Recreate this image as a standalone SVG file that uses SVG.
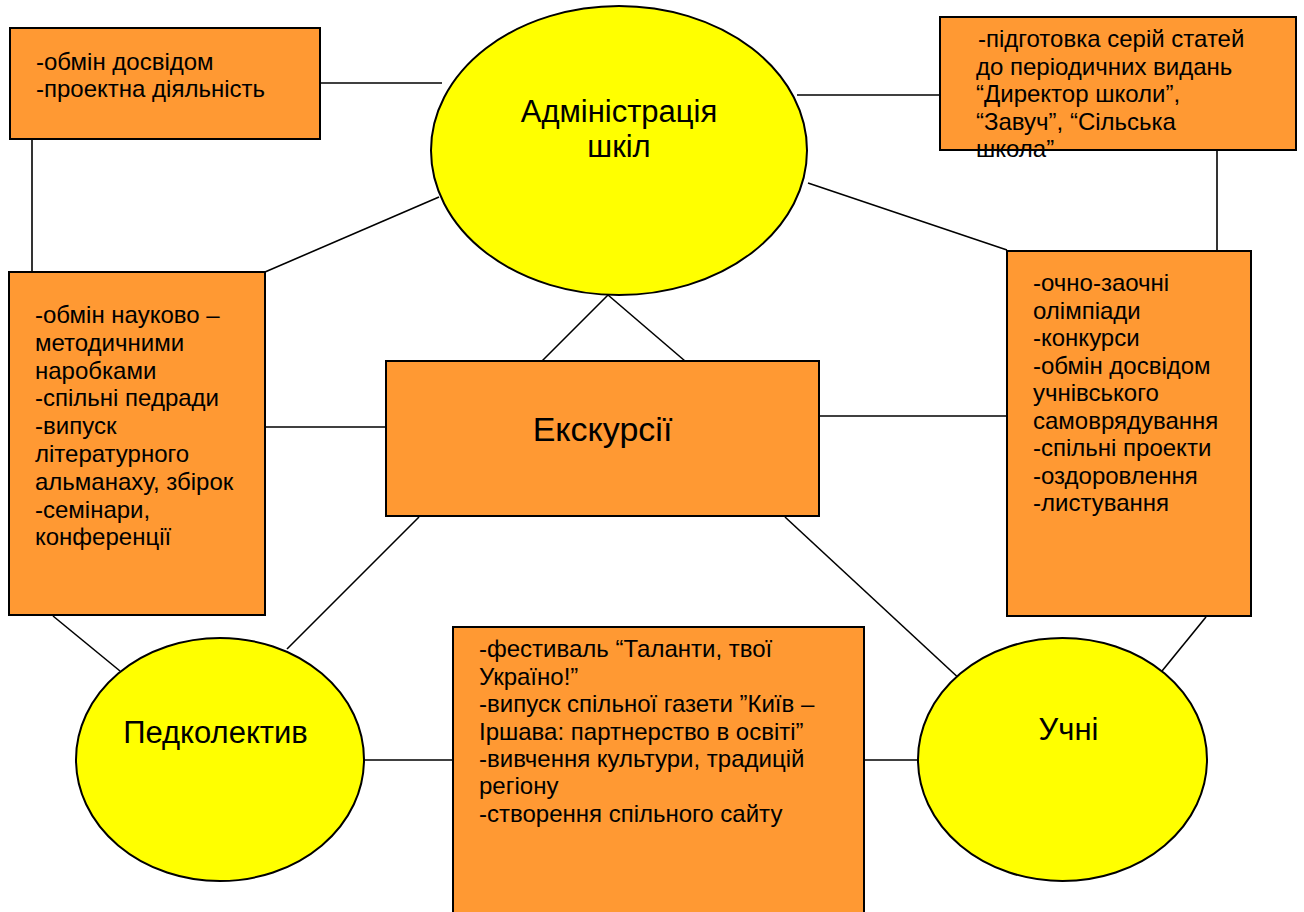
<svg xmlns="http://www.w3.org/2000/svg" width="1304" height="912" viewBox="0 0 1304 912">
<style>
.box{fill:#FF9933;stroke:#000;stroke-width:2}
.ell{fill:#FFFF00;stroke:#000;stroke-width:2}
.ln{stroke:#000;stroke-width:1.6;fill:none}
.t{font-family:"Liberation Sans",Arial,sans-serif;font-size:24px;fill:#000}
.big{font-family:"Liberation Sans",Arial,sans-serif;font-size:31px;fill:#000;text-anchor:middle}
</style>
<rect width="1304" height="912" fill="#fff"/>
<g id="connectors">
<line class="ln" x1="320" y1="83" x2="442" y2="83"/>
<line class="ln" x1="797" y1="95" x2="940" y2="95"/>
<line class="ln" x1="32" y1="139" x2="32" y2="272"/>
<line class="ln" x1="1217" y1="150" x2="1217" y2="251"/>
<line class="ln" x1="265" y1="272" x2="439" y2="197"/>
<line class="ln" x1="808" y1="183" x2="1007" y2="250"/>
<line class="ln" x1="608" y1="295" x2="542" y2="361"/>
<line class="ln" x1="608" y1="295" x2="685" y2="361"/>
<line class="ln" x1="265" y1="427" x2="386" y2="427"/>
<line class="ln" x1="819" y1="416" x2="1007" y2="416"/>
<line class="ln" x1="419" y1="517" x2="287" y2="649"/>
<line class="ln" x1="785" y1="517" x2="963" y2="682"/>
<line class="ln" x1="53" y1="616" x2="120" y2="671"/>
<line class="ln" x1="1206" y1="617" x2="1162" y2="671"/>
<line class="ln" x1="364" y1="760" x2="453" y2="760"/>
<line class="ln" x1="864" y1="760" x2="918" y2="760"/>
</g>
<g id="box-top-left">
<rect class="box" x="10" y="28" width="310" height="111"/>
<text class="t" x="36" y="70">-обмін досвідом</text>
<text class="t" x="36" y="97">-проектна діяльність</text>
</g>
<g id="box-top-right">
<rect class="box" x="940" y="17" width="356" height="133"/>
<text class="t" x="978" y="47">-підготовка серій статей</text>
<text class="t" x="976" y="74.5">до періодичних видань</text>
<text class="t" x="976" y="102">“Директор школи”,</text>
<text class="t" x="976" y="129.5">“Завуч”, “Сільська</text>
<text class="t" x="976" y="157">школа”</text>
</g>
<g id="admin">
<ellipse class="ell" cx="619" cy="150.5" rx="188" ry="144.5"/>
<text class="big" x="619" y="122">Адміністрація</text>
<text class="big" x="619" y="157">шкіл</text>
</g>
<g id="box-left">
<rect class="box" x="9" y="272" width="256" height="343"/>
<text class="t" x="35" y="323">-обмін науково –</text>
<text class="t" x="35" y="350.8">методичними</text>
<text class="t" x="35" y="378.6">наробками</text>
<text class="t" x="35" y="406.4">-спільні педради</text>
<text class="t" x="35" y="434.2">-випуск</text>
<text class="t" x="35" y="462">літературного</text>
<text class="t" x="35" y="489.8">альманаху, збірок</text>
<text class="t" x="35" y="517.6">-семінари,</text>
<text class="t" x="35" y="545.4">конференції</text>
</g>
<g id="box-right">
<rect class="box" x="1007" y="251" width="244" height="365"/>
<text class="t" x="1033" y="291">-очно-заочні</text>
<text class="t" x="1033" y="318.5">олімпіади</text>
<text class="t" x="1033" y="346">-конкурси</text>
<text class="t" x="1033" y="373.5">-обмін досвідом</text>
<text class="t" x="1033" y="401">учнівського</text>
<text class="t" x="1033" y="428.5">самоврядування</text>
<text class="t" x="1033" y="456">-спільні проекти</text>
<text class="t" x="1033" y="483.5">-оздоровлення</text>
<text class="t" x="1033" y="511">-листування</text>
</g>
<g id="excursions">
<rect class="box" x="386" y="361" width="433" height="155"/>
<text class="big" x="602.5" y="441" style="font-size:34px">Екскурсії</text>
</g>
<g id="staff">
<ellipse class="ell" cx="220" cy="759.5" rx="144" ry="121.5"/>
<text class="big" x="215.5" y="743">Педколектив</text>
</g>
<g id="students">
<ellipse class="ell" cx="1062.5" cy="759.5" rx="144.5" ry="121.5"/>
<text class="big" x="1068.5" y="740">Учні</text>
</g>
<g id="box-bottom">
<rect class="box" x="453" y="627" width="411" height="300"/>
<text class="t" x="479" y="657.3">-фестиваль “Таланти, твої</text>
<text class="t" x="479" y="684.7">Україно!”</text>
<text class="t" x="479" y="712.1">-випуск спільної газети ”Київ –</text>
<text class="t" x="479" y="739.5">Іршава: партнерство в освіті”</text>
<text class="t" x="479" y="766.9">-вивчення культури, традицій</text>
<text class="t" x="479" y="794.3">регіону</text>
<text class="t" x="479" y="821.7">-створення спільного сайту</text>
</g>
</svg>
